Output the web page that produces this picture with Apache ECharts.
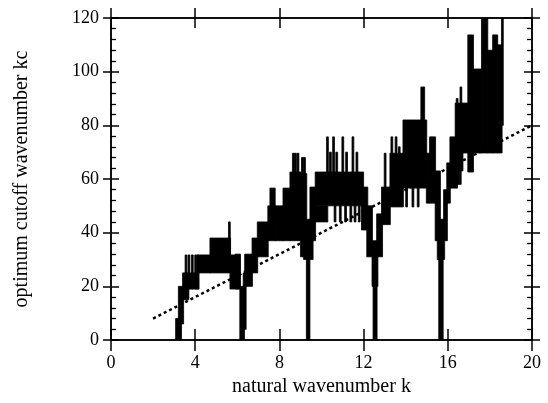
<!DOCTYPE html>
<html>
<head>
<meta charset="utf-8">
<script src="https://cdn.jsdelivr.net/npm/echarts@6/dist/echarts.min.js"></script>
<style>
html,body{margin:0;padding:0;background:#fff;}
#c{width:548px;height:403px;}
</style>
</head>
<body>
<div id="c"></div>
<script>
// Axis ticks
const xTicks = [0, 4, 8, 12, 16, 20];
const yTicks = [0, 20, 40, 60, 80, 100, 120];

// Blocks of the optimum cutoff: [k start, k end, kc low, kc high]
const cluster1 = [
  [3.07, 3.35, 0, 8], [3.2, 3.45, 6, 20], [3.4, 3.7, 15, 25], [3.5, 4.18, 19, 25],
  [3.52, 3.56, 19, 31.7], [3.66, 3.7, 19, 31.7], [3.82, 3.86, 19, 31.7],
  [3.98, 4.02, 19, 31.7], [4.08, 4.12, 19, 31.7],
  [4.15, 4.72, 25, 31.7], [4.7, 5.68, 25, 38], [5.58, 5.64, 30, 44],
  [5.65, 6.12, 19, 31.7], [5.9, 6.15, 19, 32], [6.12, 6.34, 0, 20]
];
const cluster2 = [
  [6.28, 6.42, 4, 25], [6.35, 6.72, 20, 32], [6.7, 6.97, 25, 38],
  [6.95, 7.47, 31, 44], [7.45, 7.82, 37, 50], [7.55, 7.8, 45, 56.6],
  [7.8, 8.19, 37, 50], [8.17, 8.52, 37, 56.6], [8.5, 9.02, 37, 62.6],
  [8.62, 8.66, 50, 69.6], [8.72, 8.76, 50, 69.6], [8.84, 8.88, 50, 69.6],
  [9.0, 9.3, 31, 62], [9.05, 9.09, 50, 68], [9.15, 9.19, 50, 68],
  [9.15, 9.6, 30, 45], [9.28, 9.45, 0, 31]
];
const cluster3 = [
  [9.45, 9.72, 37, 57], [9.7, 12.0, 50, 62.6], [9.6, 10.3, 44, 50],
  [10.6, 10.64, 44, 50], [10.85, 10.89, 44, 50], [11.1, 11.14, 44, 50],
  [11.35, 11.39, 44, 50], [11.55, 11.59, 44, 50], [11.75, 11.79, 44, 50],
  [10.24, 10.28, 55, 75.7], [10.38, 10.42, 55, 70], [10.53, 10.57, 55, 75.7],
  [10.68, 10.72, 55, 70], [10.97, 11.01, 55, 75.7], [11.15, 11.19, 55, 70],
  [11.45, 11.49, 55, 75.7], [11.64, 11.68, 55, 70],
  [11.9, 12.2, 41, 57], [12.15, 12.42, 31, 50], [12.4, 12.68, 20, 37],
  [12.45, 12.64, 0, 25]
];
const cluster4 = [
  [12.62, 12.9, 31, 47], [12.85, 13.27, 43, 57], [12.98, 13.02, 50, 69.6],
  [13.25, 13.89, 49.6, 69.6], [13.3, 13.34, 60, 75.7], [13.5, 13.54, 60, 75.7],
  [13.65, 13.69, 60, 72],
  [13.87, 15.0, 56.6, 82], [14.0, 14.04, 49.6, 57], [14.3, 14.34, 49.6, 57],
  [14.55, 14.59, 49.6, 57], [14.72, 14.9, 70, 94.3],
  [14.98, 15.15, 51, 69.6], [15.13, 15.42, 51, 75.7], [15.4, 15.65, 37, 63],
  [15.5, 15.85, 30, 45], [15.57, 15.78, 0, 37]
];
const cluster5 = [
  [15.8, 15.98, 37, 56], [15.95, 16.12, 51, 66], [16.1, 16.46, 56.6, 75.7],
  [16.35, 16.72, 63, 88.3], [16.4, 16.44, 75, 90], [16.58, 16.62, 80, 94.3],
  [16.45, 16.49, 58, 63], [16.55, 16.59, 58, 63],
  [16.7, 16.97, 69.7, 88.3], [16.95, 17.22, 62.6, 113.7], [17.2, 17.62, 69.7, 101],
  [17.6, 17.9, 69.7, 120], [17.88, 18.15, 69.7, 108], [18.13, 18.37, 69.7, 113.7],
  [18.35, 18.58, 69.7, 110], [18.55, 18.62, 80, 120]
];

// Reference line kc = 4k (dotted)
const refK = [2, 20];
const refKc = [8, 80];

const blocks = [].concat(cluster1, cluster2, cluster3, cluster4, cluster5);
const refData = refK.map((k, i) => [k, refKc[i]]);

const FONT = 'Liberation Serif';
const LINE = { color: '#000', width: 1.5 };

function xa(pos, inside, labels, extra) {
  return Object.assign({
    type: 'value', position: pos, min: 0, max: 20, interval: 4,
    axisLine: { show: true, onZero: false, lineStyle: LINE },
    axisTick: { show: true, inside: inside, length: 11, lineStyle: LINE },
    axisLabel: { show: labels, color: '#000', fontFamily: FONT, fontSize: 18, margin: 14 },
    splitLine: { show: false }
  }, extra || {});
}
function ya(pos, inside, labels, minor, extra) {
  return Object.assign({
    type: 'value', position: pos, min: 0, max: 120, interval: 20,
    axisLine: { show: true, onZero: false, lineStyle: LINE },
    axisTick: { show: true, inside: inside, length: 8, lineStyle: LINE },
    minorTick: { show: minor, splitNumber: 5, length: 5, lineStyle: { color: '#000', width: 1.3 } },
    axisLabel: { show: labels, color: '#000', fontFamily: FONT, fontSize: 18, margin: 12 },
    splitLine: { show: false }, minorSplitLine: { show: false }
  }, extra || {});
}

const chart = echarts.init(document.getElementById('c'), null, { renderer: 'canvas' });
chart.setOption({
  animation: false,
  backgroundColor: '#fff',
  grid: { left: 111, right: 16, top: 18, bottom: 63, containLabel: false },
  xAxis: [
    xa('bottom', false, true, {
      name: 'natural wavenumber k', nameLocation: 'middle', nameGap: 37,
      nameTextStyle: { color: '#000', fontFamily: FONT, fontSize: 20 }
    }),
    xa('bottom', true, false),
    xa('top', false, false, { axisTick: { show: true, inside: false, length: 10, lineStyle: LINE } }),
    xa('top', true, false, { axisTick: { show: true, inside: true, length: 10, lineStyle: LINE } })
  ],
  yAxis: [
    ya('left', true, false, true),
    ya('left', false, true, false, {
      name: 'optimum cutoff wavenumber kc', nameLocation: 'middle', nameGap: 79,
      nameRotate: 90,
      nameTextStyle: { color: '#000', fontFamily: FONT, fontSize: 20 }
    }),
    ya('right', true, false, true),
    ya('right', false, false, false)
  ],
  series: [
    {
      type: 'custom',
      xAxisIndex: 0, yAxisIndex: 0,
      data: blocks,
      encode: { x: [0, 1], y: [2, 3] },
      clip: true,
      renderItem: function (params, api) {
        const p0 = api.coord([api.value(0), api.value(3)]);
        const p1 = api.coord([api.value(1), api.value(2)]);
        return {
          type: 'rect',
          shape: { x: p0[0], y: p0[1], width: Math.max(p1[0] - p0[0], 1.8), height: p1[1] - p0[1] },
          style: { fill: '#000', stroke: '#000', lineWidth: 0.8 }
        };
      }
    },
    {
      type: 'line',
      xAxisIndex: 0, yAxisIndex: 0,
      data: refData,
      symbol: 'none',
      lineStyle: { color: '#000', width: 2.5, type: [3, 3] }
    }
  ]
});
</script>
</body>
</html>
